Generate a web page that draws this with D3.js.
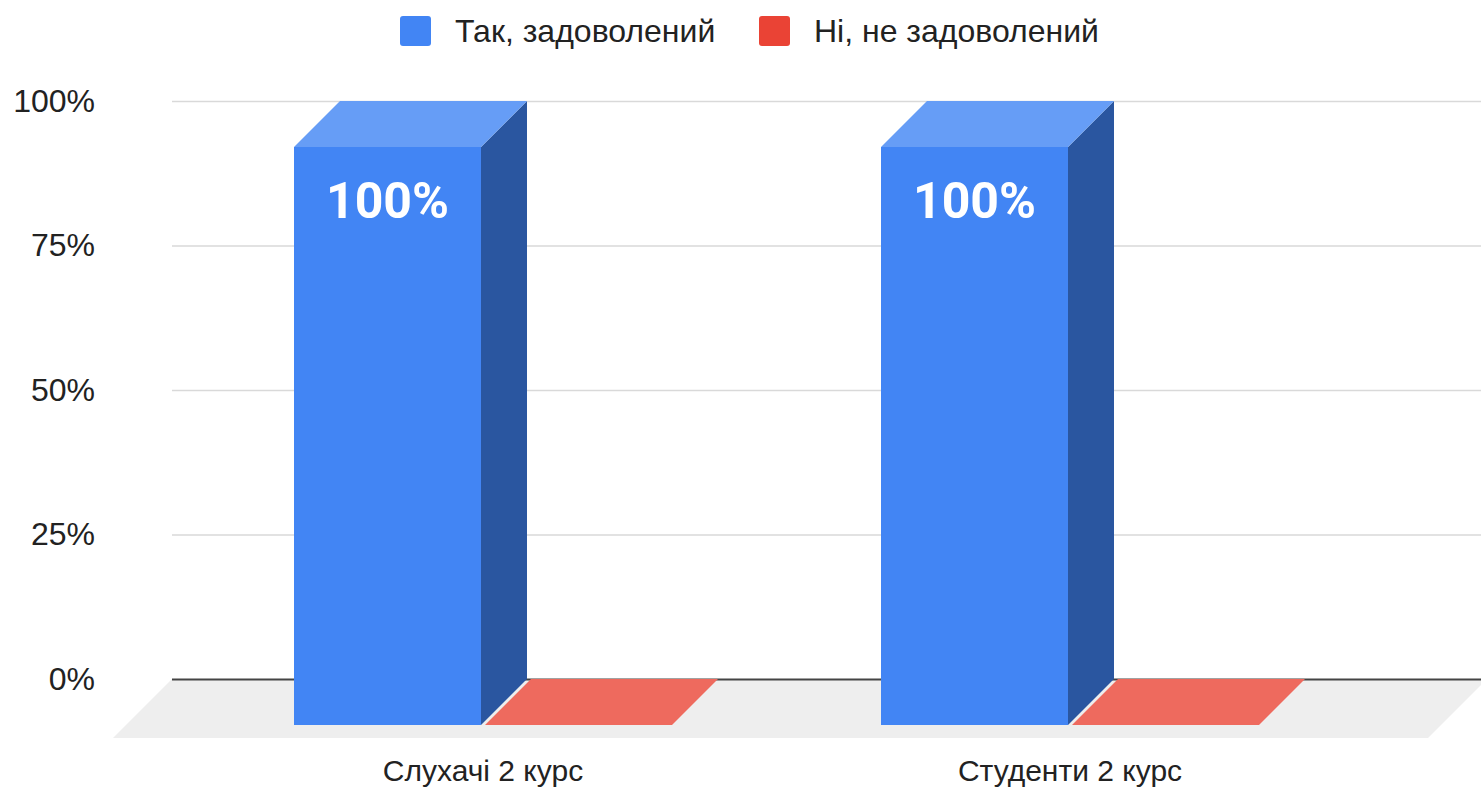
<!DOCTYPE html>
<html>
<head>
<meta charset="utf-8">
<script src="https://cdn.jsdelivr.net/npm/d3@7"></script>
<style>
  body { margin: 0; background: #fff; }
  svg { display: block; font-family: "Liberation Sans", Arial, sans-serif; }
</style>
</head>
<body>
<svg id="chart" width="1481" height="789"></svg>
<script>
// chart data
const categories = ["Слухачі 2 курс", "Студенти 2 курс"];
const series = ["Так, задоволений", "Ні, не задоволений"];
const yesValues = [1, 1];
const noValues = [0, 0];
const yTicks = [0, 0.25, 0.5, 0.75, 1];

const colors = {
    yes: { front: "#4285f4", top: "#669df6", side: "#2a56a0", legend: "#4285f4" },
    no: { front: "#ee6a5e", top: "#ee6a5e", side: "#c2473c", legend: "#ea4335" }
};

const svg = d3.select("#chart");

// back plane of the 3d box
const plotLeft = 172, plotRight = 1487, plotTop = 101, plotBottom = 679;
const depth = 46;      // bar depth
const floorDepth = 59; // floor extends a bit further

const y = d3.scaleLinear().domain([0, 1]).range([plotBottom, plotTop]);

const x0 = d3.scaleBand()
    .domain(categories)
    .range([235.5, 1409.5]);

const x1 = d3.scaleBand()
    .domain(series)
    .range([0, 378])
    .paddingInner(4 / 191);

const groupOffset = (x0.bandwidth() - 378) / 2;

// floor
svg.append("polygon")
    .attr("points", [
        [plotLeft, plotBottom], [plotRight, plotBottom],
        [plotRight - floorDepth, plotBottom + floorDepth], [plotLeft - floorDepth, plotBottom + floorDepth]
    ].join(" "))
    .attr("fill", "#eeeeee");

// gridlines + y labels
const yAxis = svg.append("g")
    .attr("transform", `translate(${plotLeft},0)`)
    .call(d3.axisLeft(y)
        .tickValues(yTicks)
        .tickSize(-(plotRight - plotLeft))
        .tickPadding(77)
        .tickFormat(d3.format(".0%")));

yAxis.select(".domain").remove();
yAxis.selectAll(".tick line")
    .attr("stroke", d => d === 0 ? "#444" : "#d9d9d9")
    .attr("stroke-width", d => d === 0 ? 2 : 1.3);
yAxis.selectAll(".tick text")
    .attr("fill", "#222")
    .style("font-size", "32px");

// bars
const data = [];
categories.forEach((c, i) => {
    data.push({ cat: c, key: series[0], value: yesValues[i], col: colors.yes });
    data.push({ cat: c, key: series[1], value: noValues[i], col: colors.no });
});

const bars = svg.append("g")
    .selectAll("g")
    .data(data)
    .join("g");

bars.each(function(d) {
    const g = d3.select(this);
    const bx = x0(d.cat) + groupOffset + x1(d.key); // back-left x
    const bw = x1.bandwidth();
    const by = y(d.value);
    const fx = bx - depth, fy0 = plotBottom + depth, fy1 = by + depth;

    if (d.value > 0) {
        // side
        g.append("polygon")
            .attr("points", [[fx + bw, fy1], [bx + bw, by], [bx + bw, plotBottom], [fx + bw, fy0]].join(" "))
            .attr("fill", d.col.side);
    }
    // top
    g.append("polygon")
        .attr("points", [[fx, fy1], [bx, by], [bx + bw, by], [fx + bw, fy1]].join(" "))
        .attr("fill", d.col.top);
    if (d.value > 0) {
        // front
        g.append("rect")
            .attr("x", fx)
            .attr("y", fy1)
            .attr("width", bw)
            .attr("height", fy0 - fy1)
            .attr("fill", d.col.front);

        g.append("text")
            .attr("x", fx + bw / 2)
            .attr("y", fy1 + 71)
            .attr("text-anchor", "middle")
            .attr("fill", "#fff")
            .style("font-family", "Roboto, sans-serif")
            .style("font-weight", "bold")
            .style("font-size", "50px")
            .text(d3.format(".0%")(d.value));
    }
});

// category labels
svg.append("g")
    .selectAll("text")
    .data(categories)
    .join("text")
    .attr("x", d => x0(d) + x0.bandwidth() / 2 - depth)
    .attr("y", 781)
    .attr("text-anchor", "middle")
    .attr("fill", "#222")
    .style("font-size", "30px")
    .text(d => d);

// legend
const legendItems = [
    { name: series[0], color: colors.yes.legend, x: 400 },
    { name: series[1], color: colors.no.legend, x: 759 }
];
const legend = svg.append("g")
    .selectAll("g")
    .data(legendItems)
    .join("g")
    .attr("transform", d => `translate(${d.x},16)`);

legend.append("rect")
    .attr("width", 31)
    .attr("height", 30)
    .attr("rx", 3)
    .attr("fill", d => d.color);

legend.append("text")
    .attr("x", 55)
    .attr("y", 26)
    .attr("fill", "#222")
    .style("font-size", "32px")
    .text(d => d.name);
</script>
</body>
</html>
